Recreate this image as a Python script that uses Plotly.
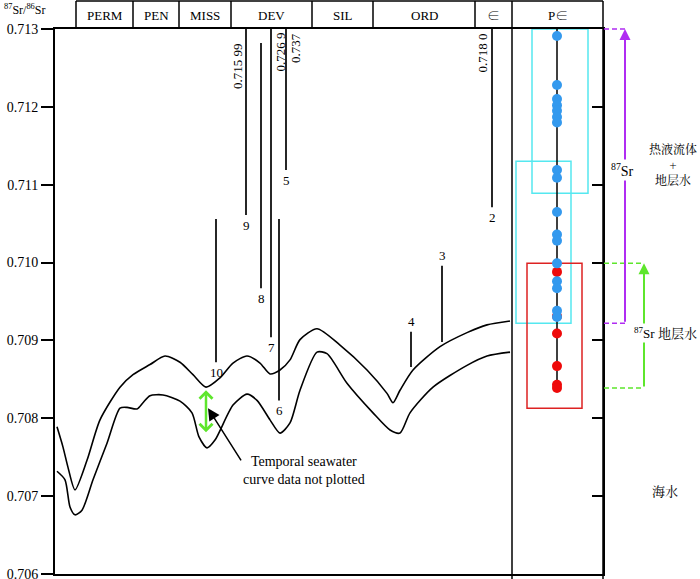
import plotly.graph_objects as go

# ---------------- data ----------------
Y_MIN, Y_MAX = 0.706, 0.713
X_MIN, X_MAX = 55, 603          # chart position units (time-scale position)
y_ticks = [0.706, 0.707, 0.708, 0.709, 0.710, 0.711, 0.712, 0.713]

period_labels = ["PERM", "PEN", "MISS", "DEV", "SIL", "ORD", "∈", "P∈"]
period_edges = [76, 133, 179, 231, 312, 373, 475, 512, 603]

# seawater 87Sr/86Sr envelope (upper and lower curves)
upper_x = [57, 63, 68, 75, 87, 100, 120, 133, 150, 165, 180, 193, 206, 220, 233, 247,
           260, 270, 280, 290, 300, 317, 340, 367, 387, 393, 400, 413, 440, 467, 487, 510]
upper_y = [0.70789, 0.70763, 0.70737, 0.70708, 0.70746, 0.70798, 0.70840, 0.70856,
           0.70869, 0.70880, 0.70872, 0.70856, 0.70840, 0.70852, 0.70871, 0.70880,
           0.70871, 0.70857, 0.70862, 0.70875, 0.70901, 0.70915, 0.70894, 0.70862,
           0.70832, 0.70820, 0.70836, 0.70862, 0.70892, 0.70910, 0.70920, 0.70925]
lower_x = [57, 65, 70, 75, 82, 93, 107, 120, 127, 137, 143, 150, 163, 180, 192, 199,
           207, 215, 233, 247, 257, 270, 280, 290, 300, 317, 327, 347, 373, 390, 400,
           410, 433, 467, 487, 510]
lower_y = [0.70732, 0.70721, 0.70686, 0.70676, 0.70682, 0.70721, 0.70768, 0.70813,
           0.70814, 0.70812, 0.70820, 0.70829, 0.70830, 0.70822, 0.70807, 0.70776,
           0.70762, 0.70772, 0.70817, 0.70831, 0.70823, 0.70798, 0.70781, 0.70794,
           0.70836, 0.70885, 0.70883, 0.70845, 0.70807, 0.70785, 0.70781, 0.70807,
           0.70840, 0.70868, 0.70880, 0.70885]

# literature sample ranges (numbered bars)
sample_ids = ["2", "3", "4", "5", "6", "7", "8", "9", "10"]
sample_x = [492, 442, 411, 286, 279, 271, 261, 246, 216]
sample_top = [0.7180, 0.70996, 0.70911, 0.737, 0.71056, 0.7269, 0.71282, 0.71599, 0.71056]
sample_bottom = [0.71071, 0.70898, 0.70866, 0.71119, 0.70823, 0.70904, 0.70967, 0.71061, 0.70872]
sample_label_side = ["below", "above", "above", "below", "below", "below", "below", "below", "below"]
offscale_labels = {"2": "0.718 0", "5": "0.737", "7": "0.726 9", "9": "0.715 99"}

# Precambrian column samples
pc_x = 557
pc_blue = [0.71291, 0.71228, 0.71210, 0.71202, 0.71195, 0.71187, 0.71180, 0.71119,
           0.71109, 0.71065, 0.71036, 0.71028, 0.70999, 0.70976, 0.70967, 0.70938, 0.70930]
pc_red = [0.70988, 0.70931, 0.70909, 0.70867, 0.70843, 0.70839]

# grouping boxes: (x0, x1, y0, y1)
box_cyan1 = (532, 588, 0.71089, 0.713)
box_cyan2 = (516, 571, 0.70922, 0.71130)
box_red = (527, 582, 0.70813, 0.70999)

# interpretation ranges (arrows at the right)
hydro_range = (0.70922, 0.713)        # 热液流体 + 地层水
formation_range = (0.70839, 0.70999)  # 地层水

# seawater-curve gap marker
gap_x = 206
gap_range = (0.70780, 0.70836)

# ---------------- layout helpers ----------------
W, H = 700, 579
M_L, M_R, M_T, M_B = 55, 97, 29, 5
PLOT_H = H - M_T - M_B
PLOT_W = W - M_L - M_R
SERIF = "Liberation Serif, Noto Serif CJK SC, Noto Sans CJK SC, serif"
CJK = "Noto Serif CJK SC, Noto Sans CJK SC, serif"
PURPLE = "#B02CF2"
GREEN = "#5EE62C"
CYAN = "#55E8F0"
BLUE = "#3399EE"
RED = "#EE0A0A"


def xp(x):
    return (x - X_MIN) / (X_MAX - X_MIN)


def xp_px(p):
    return (p - M_L) / PLOT_W


def yp(v):
    return (v - Y_MIN) / (Y_MAX - Y_MIN)


def yp_px(p):
    return (H - M_B - p) / PLOT_H


def txt(x, y, text, size=13, family=SERIF, xanchor="center", yanchor="middle", **kw):
    d = dict(xref="paper", yref="paper", x=x, y=y, text=text, showarrow=False,
             xanchor=xanchor, yanchor=yanchor,
             font=dict(family=family, size=size, color="#000000"))
    d.update(kw)
    return d


fig = go.Figure()

# seawater curves
for xs, ys in ((upper_x, upper_y), (lower_x, lower_y)):
    fig.add_trace(go.Scatter(x=xs, y=ys, mode="lines", hoverinfo="skip",
                             line=dict(color="black", width=1.6, shape="spline", smoothing=0.7)))

# sample bars
bx, by = [], []
for x, t, b in zip(sample_x, sample_top, sample_bottom):
    bx += [x, x, None]
    by += [t, b, None]
fig.add_trace(go.Scatter(x=bx, y=by, mode="lines", hoverinfo="skip",
                         line=dict(color="black", width=1.7)))

# Precambrian column line and dots
fig.add_trace(go.Scatter(x=[pc_x, pc_x], y=[Y_MAX, min(pc_red)], mode="lines",
                         hoverinfo="skip", line=dict(color="black", width=1.5)))
fig.add_trace(go.Scatter(x=[pc_x] * len(pc_red), y=pc_red, mode="markers",
                         marker=dict(color=RED, size=10, line=dict(width=0))))
fig.add_trace(go.Scatter(x=[pc_x] * len(pc_blue), y=pc_blue, mode="markers",
                         marker=dict(color=BLUE, size=10, line=dict(width=0))))
# carrier for the inside right ticks
fig.add_trace(go.Scatter(x=[None], y=[None], yaxis="y2", hoverinfo="skip"))

shapes = []
# boxes
for (x0, x1, y0, y1), col in ((box_cyan1, CYAN), (box_cyan2, CYAN), (box_red, "#DD2222")):
    shapes.append(dict(type="rect", xref="x", yref="y", x0=x0, x1=x1, y0=y0, y1=y1,
                       line=dict(color=col, width=1.5), layer="below"))

# header frame
shapes.append(dict(type="line", xref="paper", yref="paper", x0=xp(period_edges[0]),
                   x1=xp(period_edges[-1]), y0=yp_px(1), y1=yp_px(1),
                   line=dict(color="black", width=1.5)))
for e in period_edges:
    bottom = yp_px(579) if e in (512, 603) else 1
    shapes.append(dict(type="line", xref="paper", yref="paper", x0=xp(e), x1=xp(e),
                       y0=yp_px(1), y1=bottom, line=dict(color="black", width=1.5)))

# right side interpretation brackets
for (lo, hi), xpix, col in ((hydro_range, 625, PURPLE), (formation_range, 644, GREEN)):
    for v in (lo, hi):
        shapes.append(dict(type="line", xref="paper", yref="paper", x0=xp_px(604),
                           x1=xp_px(xpix), y0=yp(v), y1=yp(v),
                           line=dict(color=col, width=1.5, dash="5px,3px")))

annotations = []
# header labels
for i, lab in enumerate(period_labels):
    annotations.append(txt(xp((period_edges[i] + period_edges[i + 1]) / 2), yp_px(15), lab))

# y-axis title
annotations.append(txt(xp_px(47), yp_px(10), "<sup>87</sup>Sr/<sup>86</sup>Sr", size=12,
                       xanchor="right"))

# sample number labels
for sid, x, t, b, side in zip(sample_ids, sample_x, sample_top, sample_bottom, sample_label_side):
    if side == "below":
        annotations.append(txt(xp(x), yp(b), sid, yanchor="top", yshift=-1))
    else:
        annotations.append(txt(xp(x), yp(t), sid, yanchor="bottom", yshift=1))

# rotated off-scale values
rot_pos = {"2": (-10, 32), "5": (9, 31), "7": (9, 31), "9": (-9, 41)}
for sid, label in offscale_labels.items():
    x = sample_x[sample_ids.index(sid)]
    dx, top = rot_pos[sid]
    annotations.append(txt(xp(x + dx), yp_px(top), label, yanchor="top", textangle=-90))

# gap marker (green double arrow)
annotations.append(dict(xref="x", yref="y", axref="x", ayref="y", x=gap_x, y=gap_range[1],
                        ax=gap_x, ay=gap_range[0], text="", showarrow=True,
                        arrowhead=4, startarrowhead=4, arrowside="end+start",
                        arrowsize=1.0, startarrowsize=1.0, arrowwidth=2.5, arrowcolor=GREEN))
# black pointer and note
annotations.append(dict(xref="x", yref="y", axref="x", ayref="y", x=208, y=0.70813,
                        ax=242, ay=0.70744, text="", showarrow=True, arrowhead=2,
                        arrowsize=1.6, arrowwidth=1.5, arrowcolor="black"))
annotations.append(txt(xp(304), yp(0.70733), "Temporal seawater<br>curve data not plotted",
                       size=14, align="center"))

# right side vertical arrows
for (lo, hi), xpix, col in ((hydro_range, 625, PURPLE), (formation_range, 644, GREEN)):
    length = (hi - lo) / (Y_MAX - Y_MIN) * PLOT_H
    annotations.append(dict(xref="paper", yref="paper", x=xp_px(xpix), y=yp(hi),
                            axref="pixel", ayref="pixel", ax=0, ay=length, text="",
                            showarrow=True, arrowhead=2, arrowsize=1.1, arrowwidth=2,
                            arrowcolor=col))

annotations.append(txt(xp_px(622), yp_px(170), "<sup>87</sup>Sr", size=14,
                       bgcolor="white", borderpad=1))
annotations.append(txt(xp_px(673), yp_px(164), "热液流体<br>+<br>地层水", size=12, family=CJK,
                       align="center"))
annotations.append(txt(xp_px(632), yp_px(333), "<sup>87</sup>Sr 地层水", size=13,
                       xanchor="left", bgcolor="white", borderpad=1))
annotations.append(txt(xp_px(665), yp_px(490), "海水", size=13, family=CJK))

fig.update_layout(
    width=W, height=H,
    margin=dict(l=M_L, r=M_R, t=M_T, b=M_B, pad=0),
    paper_bgcolor="white", plot_bgcolor="white",
    showlegend=False,
    xaxis=dict(range=[X_MIN, X_MAX], showgrid=False, zeroline=False, showticklabels=False,
               ticks="", showline=True, linecolor="black", linewidth=2, mirror=True,
               automargin=False, fixedrange=True),
    yaxis=dict(range=[Y_MIN, Y_MAX], tickvals=y_ticks, tickformat=".3f", ticks="outside",
               ticklen=12, tickwidth=1.5, tickcolor="black", showgrid=False, zeroline=False,
               showline=True, linecolor="black", linewidth=2, mirror=True,
               ticklabeloverflow="allow",
               tickfont=dict(family=SERIF, size=14, color="black"), automargin=False),
    yaxis2=dict(range=[Y_MIN, Y_MAX], overlaying="y", side="right", tickvals=y_ticks,
                ticks="inside", ticklen=11, tickwidth=1.5, tickcolor="black",
                showticklabels=False, showgrid=False, zeroline=False, showline=False),
    shapes=shapes,
    annotations=annotations,
)

fig.write_html("out.html",
               config={"displayModeBar": False},
               post_script="document.body.style.margin='0px';"
                           "document.documentElement.style.overflow='hidden';")
